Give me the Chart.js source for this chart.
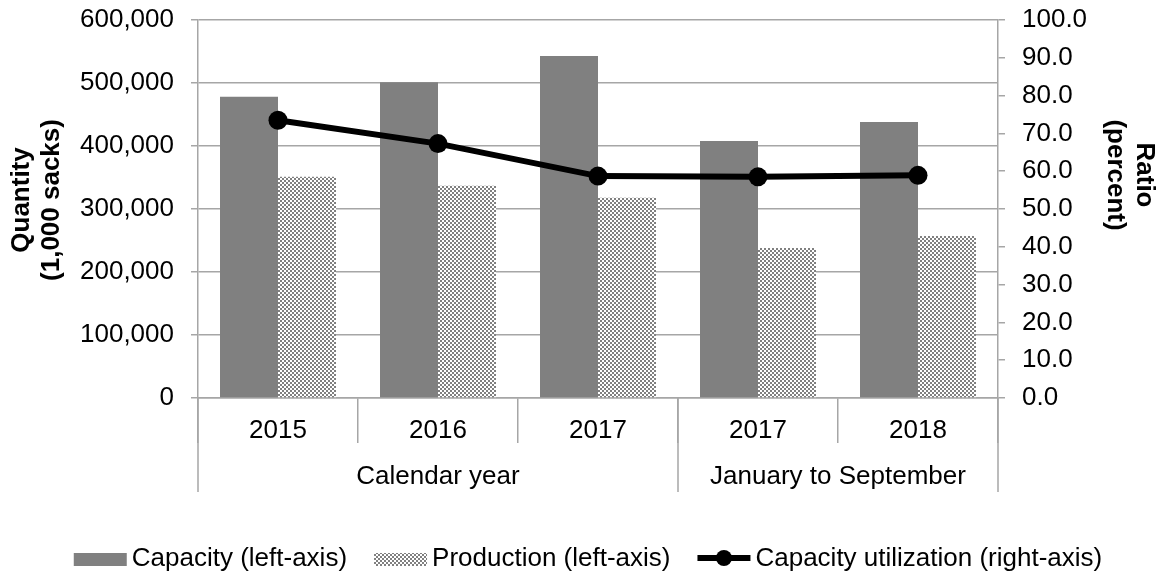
<!DOCTYPE html>
<html>
<head>
<meta charset="utf-8">
<script src="https://cdn.jsdelivr.net/npm/chart.js@4"></script>
<style>
  body { margin: 0; background: #fff; }
</style>
</head>
<body>
<canvas id="capChart" width="1161" height="577"></canvas>
<script>
// chart values
const categories = ["2015", "2016", "2017", "2017", "2018"];
const groupLabels = ["Calendar year", "January to September"];
const groupSizes = [3, 2];
const capacity = [478000, 501000, 543000, 408000, 438000];
const production = [351000, 337000, 318000, 238000, 257000];
const utilization = [73.5, 67.3, 58.7, 58.5, 58.9];
const seriesNames = ["Capacity (left-axis)", "Production (left-axis)", "Capacity utilization (right-axis)"];

const FONT = "'Liberation Sans', Arial, sans-serif";
const GRID = "#a6a6a6";
const BAR = "#808080";

// checker pattern for the production bars
function makeChecker() {
  const c = document.createElement("canvas");
  c.width = 4;
  c.height = 4;
  const g = c.getContext("2d");
  g.fillStyle = "#fff";
  g.fillRect(0, 0, 4, 4);
  g.fillStyle = BAR;
  g.fillRect(0, 0, 2, 2);
  g.fillRect(2, 2, 2, 2);
  return g.createPattern(c, "repeat");
}

const ctx = document.getElementById("capChart").getContext("2d");
const checker = makeChecker();

// group separators, group labels, axis titles and legend
const extras = {
  id: "extras",
  afterDraw(chart) {
    const c = chart.ctx;
    const xs = chart.scales.x;
    const area = chart.chartArea;
    const half = (xs.getPixelForValue(1) - xs.getPixelForValue(0)) / 2;

    c.save();
    c.strokeStyle = GRID;
    c.lineWidth = 1.5;
    c.fillStyle = "#000";
    c.font = "26px " + FONT;
    c.textAlign = "center";
    c.textBaseline = "middle";
    let idx = 0;
    const edges = [xs.getPixelForValue(0) - half];
    groupSizes.forEach((n, i) => {
      const x0 = xs.getPixelForValue(idx) - half;
      idx += n;
      const x1 = xs.getPixelForValue(idx - 1) + half;
      edges.push(x1);
      c.fillText(groupLabels[i], (x0 + x1) / 2, area.bottom + 79);
    });
    edges.forEach((x) => {
      c.beginPath();
      c.moveTo(x, area.bottom);
      c.lineTo(x, area.bottom + 94);
      c.stroke();
    });

    // axis titles
    c.font = "bold 26px " + FONT;
    const midL = (area.top + area.bottom) / 2 - 9;
    c.save();
    c.translate(22, midL);
    c.rotate(-Math.PI / 2);
    c.fillText("Quantity", 0, 0);
    c.restore();
    c.save();
    c.translate(52, midL);
    c.rotate(-Math.PI / 2);
    c.fillText("(1,000 sacks)", 0, 0);
    c.restore();
    const midR = (area.top + area.bottom) / 2 - 34;
    c.save();
    c.translate(1144, midR);
    c.rotate(Math.PI / 2);
    c.fillText("Ratio", 0, 0);
    c.restore();
    c.save();
    c.translate(1115, midR);
    c.rotate(Math.PI / 2);
    c.fillText("(percent)", 0, 0);
    c.restore();

    // legend
    c.font = "26px " + FONT;
    c.textAlign = "left";
    const mw = 53, tgap = 5, igap = 27, ly = 559;
    const widths = seriesNames.map((s) => c.measureText(s).width);
    const total = widths.reduce((a, b) => a + b, 0) + seriesNames.length * (mw + tgap) + (seriesNames.length - 1) * igap;
    let x = (area.left + area.right) / 2 - 10 - total / 2;
    seriesNames.forEach((name, i) => {
      if (i === 0) {
        c.fillStyle = BAR;
        c.fillRect(x, ly - 6, mw, 13);
      } else if (i === 1) {
        c.fillStyle = checker;
        c.fillRect(x, ly - 6, mw, 13);
      } else {
        c.strokeStyle = "#000";
        c.lineWidth = 6;
        c.beginPath();
        c.moveTo(x, ly - 1);
        c.lineTo(x + mw, ly - 1);
        c.stroke();
        c.fillStyle = "#000";
        c.beginPath();
        c.arc(x + mw / 2, ly - 1, 8, 0, Math.PI * 2);
        c.fill();
      }
      c.fillStyle = "#000";
      c.fillText(name, x + mw + tgap, ly);
      x += mw + tgap + widths[i] + igap;
    });
    c.restore();
  },
};

new Chart(ctx, {
  type: "bar",
  data: {
    labels: categories,
    datasets: [
      {
        type: "line",
        label: seriesNames[2],
        data: utilization,
        yAxisID: "y1",
        order: 0,
        borderColor: "#000",
        borderWidth: 6,
        pointRadius: 9.5,
        pointBackgroundColor: "#000",
        pointBorderWidth: 0,
        tension: 0,
      },
      {
        label: seriesNames[0],
        data: capacity,
        yAxisID: "y",
        order: 1,
        backgroundColor: BAR,
        categoryPercentage: 0.725,
        barPercentage: 1.0,
      },
      {
        label: seriesNames[1],
        data: production,
        yAxisID: "y",
        order: 2,
        backgroundColor: checker,
        categoryPercentage: 0.725,
        barPercentage: 1.0,
      },
    ],
  },
  options: {
    responsive: false,
    animation: false,
    devicePixelRatio: 1,
    layout: { padding: { top: 20, left: 0, right: 0, bottom: 0 } },
    plugins: {
      legend: { display: false },
      tooltip: { enabled: false },
    },
    scales: {
      x: {
        offset: true,
        grid: { offset: true, drawOnChartArea: false, tickLength: 45, color: GRID, lineWidth: 1.5 },
        border: { color: GRID, width: 1.5 },
        ticks: { font: { family: FONT, size: 26 }, color: "#000", padding: -28, maxRotation: 0 },
        afterFit: (s) => { s.height = 179; s.paddingLeft = 0; s.paddingRight = 0; },
      },
      y: {
        position: "left",
        min: 0,
        max: 600000,
        ticks: {
          stepSize: 100000,
          font: { family: FONT, size: 26 },
          color: "#000",
          padding: 17,
          callback: (v) => v.toLocaleString("en-US"),
        },
        grid: { color: GRID, lineWidth: 1.5, tickLength: 7 },
        border: { color: GRID, width: 1.5 },
        afterFit: (s) => { s.width = 198; s.paddingTop = 0; s.paddingBottom = 0; },
      },
      y1: {
        position: "right",
        min: 0,
        max: 100,
        ticks: {
          stepSize: 10,
          autoSkip: false,
          font: { family: FONT, size: 26 },
          color: "#000",
          padding: 17,
          callback: (v) => v.toFixed(1),
        },
        grid: { drawOnChartArea: false, color: GRID, lineWidth: 1.5, tickLength: 7 },
        border: { color: GRID, width: 1.5 },
        afterFit: (s) => { s.width = 163; s.paddingTop = 0; s.paddingBottom = 0; },
      },
    },
  },
  plugins: [extras],
});
</script>
</body>
</html>
